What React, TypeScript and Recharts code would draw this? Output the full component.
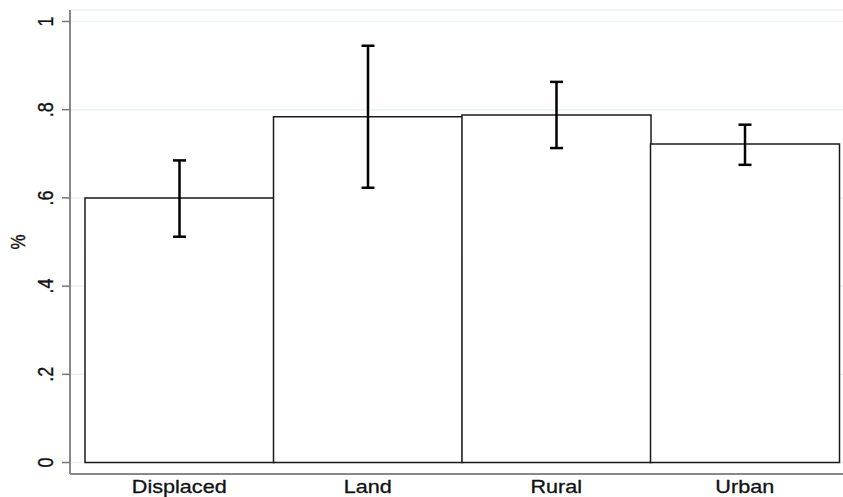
import React from 'react';
import { BarChart, Bar, XAxis, YAxis, CartesianGrid, ErrorBar, Label } from 'recharts';

const categories = ['Displaced', 'Land', 'Rural', 'Urban'];
const means = [0.6, 0.784, 0.788, 0.722];
const lower = [0.512, 0.623, 0.713, 0.675];
const upper = [0.685, 0.945, 0.863, 0.766];
const yTicks = [0, 0.2, 0.4, 0.6, 0.8, 1];

const data = categories.map((c, i) => ({
  name: c,
  value: means[i],
  err: [means[i] - lower[i], upper[i] - means[i]],
}));

const FONT = '"Liberation Sans", Arial, Helvetica, sans-serif';

const fmt = (v: number) => {
  if (v === 0) return '0';
  if (v === 1) return '1';
  return String(Math.round(v * 10) / 10).replace(/^0/, '');
};

const XTick = (props: any) => {
  const { x, y, payload } = props;
  return (
    <text
      transform={`translate(${x},${y + 19}) scale(1.2,1)`}
      textAnchor="middle"
      fontFamily={FONT}
      fontSize={18}
      fill="#111"
      stroke="#111"
      strokeWidth={0.3}
    >
      {payload.value}
    </text>
  );
};

const YTick = (props: any) => {
  const { x, y, payload } = props;
  return (
    <text
      transform={`translate(${x - 7},${y}) scale(1.2,1) rotate(-90)`}
      textAnchor="middle"
      fontFamily={FONT}
      fontSize={18}
      fill="#111"
      stroke="#111"
      strokeWidth={0.3}
    >
      {fmt(payload.value)}
    </text>
  );
};

export default function App() {
  return (
    <div style={{ position: 'absolute', left: 0, top: 0, background: '#fff' }}>
      <BarChart
        width={843}
        height={497}
        data={data}
        margin={{ top: 10, right: 0, bottom: 0, left: 20 }}
        barCategoryGap={0}
      >
        <CartesianGrid horizontal vertical={false} stroke="#eaf2f2" strokeWidth={1.5} />
        <XAxis
          dataKey="name"
          height={23}
          tickLine={false}
          tickSize={0}
          tickMargin={0}
          padding={{ left: 15, right: 4 }}
          axisLine={{ stroke: '#888', strokeWidth: 2 }}
          tick={<XTick />}
          interval={0}
        />
        <YAxis
          width={50}
          domain={[-0.026, 1.026]}
          ticks={yTicks}
          allowDataOverflow
          tickSize={8}
          axisLine={{ stroke: '#888', strokeWidth: 2 }}
          tickLine={{ stroke: '#777', strokeWidth: 1.5 }}
          tick={<YTick />}
        >
          <Label
            content={(p: any) => {
              const vb = p.viewBox || { x: 20, y: 10, width: 50, height: 464 };
              const cy = vb.y + vb.height / 2;
              return (
                <text
                  transform={`translate(25,${cy}) scale(1.2,1) rotate(-90)`}
                  textAnchor="middle"
                  fontFamily={FONT}
                  fontSize={17}
                  fill="#111"
                  stroke="#111"
                  strokeWidth={0.3}
                >
                  %
                </text>
              );
            }}
          />
        </YAxis>
        <Bar dataKey="value" fill="#fff" stroke="#1a1a1a" strokeWidth={1.5} isAnimationActive={false}>
          <ErrorBar dataKey="err" width={6.5} stroke="#000" strokeWidth={2.5} isAnimationActive={false} />
        </Bar>
      </BarChart>
    </div>
  );
}
